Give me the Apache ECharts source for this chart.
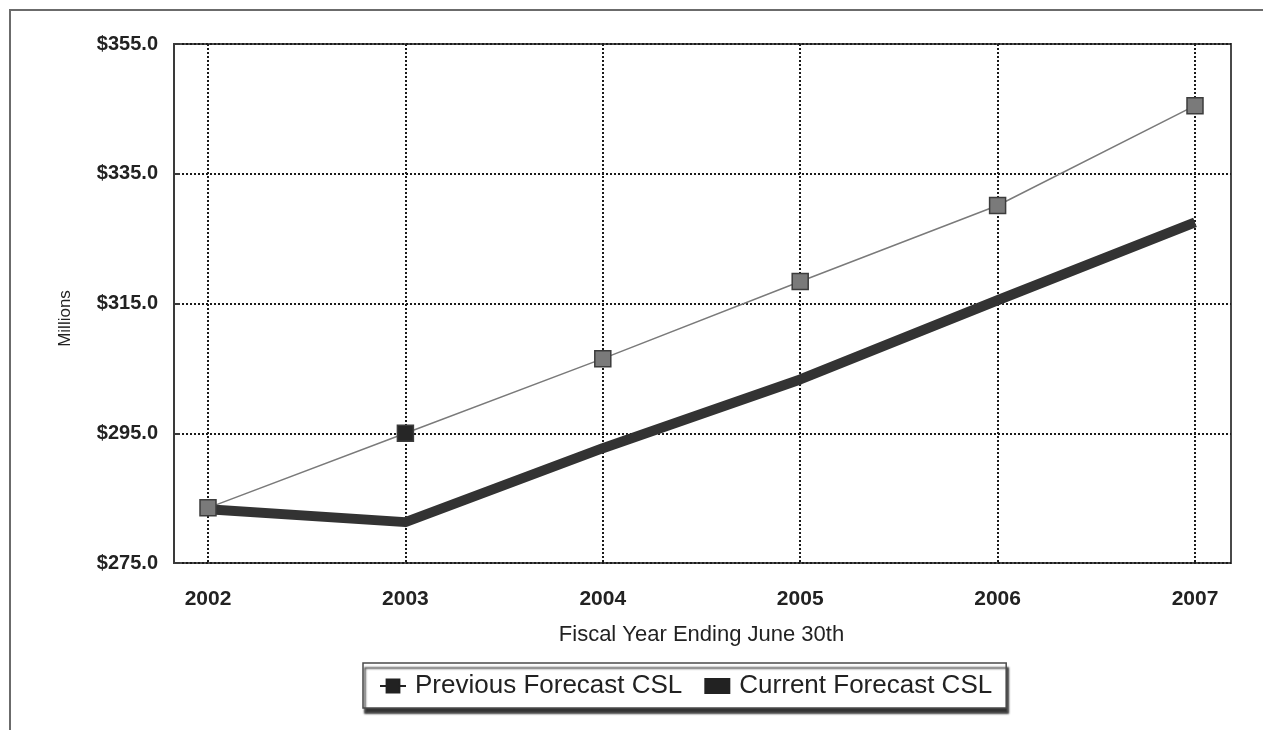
<!DOCTYPE html>
<html>
<head>
<meta charset="utf-8">
<script src="https://cdn.jsdelivr.net/npm/echarts@6/dist/echarts.min.js"></script>
<style>
  html, body { margin: 0; padding: 0; background: #fff; }
  #chart { width: 1263px; height: 730px; }
</style>
</head>
<body>
<div id="chart"></div>
<script>
// Fiscal years on the category axis
var years = ['2002', '2003', '2004', '2005', '2006', '2007'];
// Cumulative CSL forecasts, millions of dollars
var previousForecast = [283.5, 295.0, 306.5, 318.4, 330.1, 345.5];
var currentForecast = [283.3, 281.3, 292.7, 303.3, 315.5, 327.5];
// Value axis range and step
var yMin = 275, yMax = 355, yStep = 20;

var FONT = '"Liberation Sans", Arial, sans-serif';
var chart = echarts.init(document.getElementById('chart'), null, { renderer: 'canvas' });

var prevData = previousForecast.map(function (v, i) {
  // the 2003 marker is printed darker than the rest
  return i === 1 ? { value: v, itemStyle: { color: '#262626' } } : v;
});

chart.setOption({
  backgroundColor: '#ffffff',
  animation: false,
  textStyle: { fontFamily: FONT },
  graphic: [{
    type: 'rect',
    shape: { x: 10, y: 10, width: 1320, height: 800 },
    style: { fill: 'none', stroke: '#6b6b6b', lineWidth: 2 },
    silent: true,
    z: -10
  }],
  grid: [
    // data grid: category positions run from the 2002 line to the 2007 line
    { left: 208, right: 68, top: 44, bottom: 167 },
    // plot frame, a little wider than the data range
    { left: 174, right: 32, top: 44, bottom: 167, show: true,
      borderColor: '#4a4a4a', borderWidth: 2, backgroundColor: 'transparent' }
  ],
  xAxis: [{
    gridIndex: 0,
    type: 'category',
    data: years,
    boundaryGap: false,
    axisLine: { show: false },
    axisTick: { show: false },
    axisLabel: { margin: 26, fontSize: 21, fontWeight: 'bold', color: '#222', fontFamily: FONT },
    splitLine: { show: true, lineStyle: { color: '#1a1a1a', width: 2, type: [2, 2] } },
    name: 'Fiscal Year Ending June 30th',
    nameLocation: 'middle',
    nameGap: 61,
    nameTextStyle: { fontSize: 22, color: '#222', fontFamily: FONT }
  }, {
    gridIndex: 1,
    type: 'value',
    show: false
  }],
  yAxis: [{
    gridIndex: 0,
    type: 'value',
    min: yMin, max: yMax, interval: yStep,
    show: false,
    splitLine: { show: false }
  }, {
    gridIndex: 1,
    type: 'value',
    min: yMin, max: yMax, interval: yStep,
    axisLine: { show: true, lineStyle: { color: '#3a3a3a', width: 2 } },
    axisTick: { show: true, inside: true, length: 6, lineStyle: { color: '#3a3a3a', width: 2 } },
    axisLabel: {
      margin: 16, fontSize: 20, fontWeight: 'bold', color: '#222', fontFamily: FONT,
      formatter: function (v) { return '$' + v.toFixed(1); }
    },
    splitLine: { show: true, lineStyle: { color: '#1a1a1a', width: 2, type: [2, 2] } },
    name: 'Millions',
    nameLocation: 'middle',
    nameGap: 100,
    nameRotate: 90,
    nameTextStyle: { fontSize: 17, color: '#222', fontFamily: FONT, padding: [0, 30, 0, 0] }
  }],
  legend: {
    left: 363,
    top: 663,
    orient: 'horizontal',
    padding: [10, 14, 9, 16],
    itemGap: 22,
    itemWidth: 26,
    itemHeight: 16,
    backgroundColor: '#ffffff',
    borderColor: '#4a4a4a',
    borderWidth: 1.5,
    shadowColor: 'rgba(30,30,30,0.9)',
    shadowBlur: 2,
    shadowOffsetX: 2,
    shadowOffsetY: 5,
    textStyle: { fontSize: 26, color: '#222', fontFamily: FONT, padding: [0, 0, 0, 4] },
    data: [
      { name: 'Previous Forecast CSL',
        itemStyle: { color: '#222', borderColor: '#222' },
        lineStyle: { color: '#222', width: 2 } },
      { name: 'Current Forecast CSL', icon: 'rect', itemStyle: { color: '#222', borderWidth: 0 } }
    ]
  },
  series: [{
    name: 'Current Forecast CSL',
    type: 'line',
    xAxisIndex: 0, yAxisIndex: 0,
    data: currentForecast,
    showSymbol: false,
    symbol: 'none',
    color: '#2f2f2f',
    lineStyle: { color: '#333333', width: 10, cap: 'butt', join: 'round' },
    z: 3
  }, {
    name: 'Previous Forecast CSL',
    type: 'line',
    xAxisIndex: 0, yAxisIndex: 0,
    data: prevData,
    symbol: 'rect',
    symbolSize: 16,
    showSymbol: true,
    color: '#222',
    lineStyle: { color: '#7a7a7a', width: 1.5 },
    itemStyle: { color: '#7a7a7a', borderColor: '#3c3c3c', borderWidth: 1.5 },
    z: 4
  }]
});
</script>
</body>
</html>
